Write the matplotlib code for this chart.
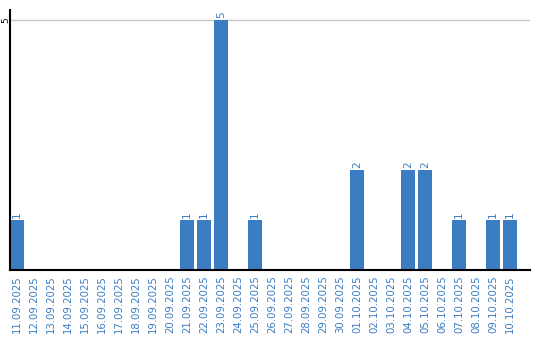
import matplotlib
matplotlib.use("Agg")
import matplotlib.pyplot as plt
import numpy as np
import datetime as dt

start = dt.date(2025, 9, 11)
dates = [(start + dt.timedelta(days=i)).strftime("%d.%m.%Y") for i in range(30)]
counts_by_date = {
    "11.09.2025": 1, "21.09.2025": 1, "22.09.2025": 1, "23.09.2025": 5,
    "25.09.2025": 1, "01.10.2025": 2, "04.10.2025": 2, "05.10.2025": 2,
    "07.10.2025": 1, "09.10.2025": 1, "10.10.2025": 1,
}
values = [counts_by_date.get(d, 0) for d in dates]
y_ticks = [5]

bar_color = "#3a7dc2"
text_color = "#3a7dc2"

fig = plt.figure(figsize=(5.4, 3.4), dpi=100)
ax = fig.add_axes([10/540, 70/340, 520/540, 260/340])
x = np.arange(len(dates))
ax.bar(x, values, width=0.82, color=bar_color, zorder=2)
for xi, v in zip(x, values):
    if v > 0:
        ax.text(xi, v + 0.05, str(v), rotation=90, ha="center", va="bottom",
                color=text_color, fontsize=7.5)

ax.set_xlim(-0.41, 30.18)
ax.set_ylim(0, 5.2)
ax.set_yticks(y_ticks)
ax.set_yticklabels([])
ax.yaxis.grid(True, color="#c8c8c8", linewidth=1, zorder=0)
ax.set_axisbelow(True)
# y tick label placed manually just left of the axis
import matplotlib.transforms as mtransforms
trans = mtransforms.blended_transform_factory(fig.transFigure, ax.transData)
for t in y_ticks:
    fig.text(5.6/540, t, str(t), rotation=90, ha="center", va="center",
             fontsize=6.5, color="black", transform=trans)

ax.set_xticks(x)
ax.set_xticklabels(dates, rotation=90, color=text_color, fontsize=7.3)
ax.tick_params(axis="x", length=0, pad=4)
ax.tick_params(axis="y", length=0, pad=0)
for s in ["top", "right"]:
    ax.spines[s].set_visible(False)
ax.spines["left"].set_linewidth(1.5)
ax.spines["bottom"].set_linewidth(1.5)

fig.savefig("out.png", dpi=100)
